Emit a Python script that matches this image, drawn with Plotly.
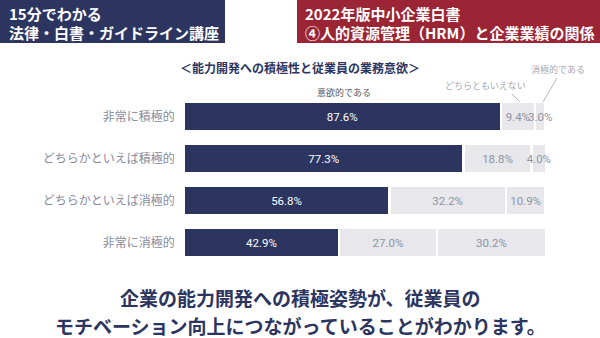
import plotly.graph_objects as go

categories = ["非常に積極的", "どちらかといえば積極的", "どちらかといえば消極的", "非常に消極的"]
series_names = ["意欲的である", "どちらともいえない", "消極的である"]
motivated = [87.6, 77.3, 56.8, 42.9]
neutral = [9.4, 18.8, 32.2, 27.0]
negative = [3.0, 4.0, 10.9, 30.2]

NAVY = "#2c355f"
RED = "#9b2535"
LIGHT = "#e7e7ec"
GRAY_TXT = "#8e93a3"
FONT = "Noto Sans CJK JP"

fig = go.Figure()
series = [motivated, neutral, negative]
colors = [NAVY, LIGHT, LIGHT]
txtcolors = ["white", GRAY_TXT, GRAY_TXT]
for name, vals, c, tc in zip(series_names, series, colors, txtcolors):
    fig.add_trace(go.Bar(
        y=categories, x=vals, orientation="h", name=name,
        marker=dict(color=c, line=dict(color="white", width=2.5)),
        text=[f"{v:.1f}%" for v in vals], textposition="inside",
        insidetextanchor="middle", constraintext="none", textangle=0,
        cliponaxis=False,
        textfont=dict(color=tc, size=11.5, family="Roboto"),
        hoverinfo="skip",
    ))

fig.update_layout(
    width=600, height=338, margin=dict(l=0, r=0, t=0, b=0),
    paper_bgcolor="white", plot_bgcolor="white",
    barmode="stack", bargap=0.3, showlegend=False,
    font=dict(family=FONT),
    xaxis=dict(domain=[183.75/600, 548.25/600], range=[0, 100.7], visible=False, fixedrange=True),
    yaxis=dict(domain=[74.5/338, 242.5/338], autorange="reversed",
               tickfont=dict(size=12, color="#868b9c", family=FONT),
               ticks="", showline=False, showgrid=False, ticklabelstandoff=8),
)

shapes = [
    dict(type="rect", xref="paper", yref="paper", x0=0, x1=225/600, y0=1-43/338, y1=1,
         fillcolor=NAVY, line=dict(width=0), layer="below"),
    dict(type="rect", xref="paper", yref="paper", x0=297/600, x1=1, y0=1-43/338, y1=1,
         fillcolor=RED, line=dict(width=0), layer="below"),
    dict(type="line", xref="paper", yref="paper", x0=512/600, y0=1-94/338, x1=520/600, y1=1-102/338,
         line=dict(color="#a0a4b0", width=0.8)),
    dict(type="line", xref="paper", yref="paper", x0=557/600, y0=1-78/338, x1=543/600, y1=1-102/338,
         line=dict(color="#a0a4b0", width=0.8)),
]

def ann(text, x, y, size, color, xanchor="left", weight="bold"):
    return dict(text=text, xref="paper", yref="paper", x=x/600, y=1-y/338,
                xanchor=xanchor, yanchor="middle", showarrow=False,
                font=dict(size=size, color=color, family=FONT, weight=weight))

annotations = [
    ann("15分でわかる", 7, 14, 15, "white"),
    ann("法律・白書・ガイドライン講座", 7, 33, 15, "white"),
    ann("2022年版中小企業白書", 303, 14, 15, "white"),
    ann("④人的資源管理（HRM）と企業業績の関係", 303, 33, 15, "white"),
    ann("＜能力開発への積極性と従業員の業務意欲＞", 300, 67, 12, NAVY, "center"),
    ann("意欲的である", 344, 92, 9, "#555a6a", "center", "normal"),
    ann("どちらともいえない", 485, 86, 9, "#a5a9b5", "center", "normal"),
    ann("消極的である", 558, 70, 9, "#a5a9b5", "center", "normal"),
    ann("企業の能力開発への積極姿勢が、従業員の", 300, 297, 19, NAVY, "center"),
    ann("モチベーション向上につながっていることがわかります。", 300, 325, 19, NAVY, "center"),
]
fig.update_layout(shapes=shapes, annotations=annotations)
fig.write_html("out.html")
